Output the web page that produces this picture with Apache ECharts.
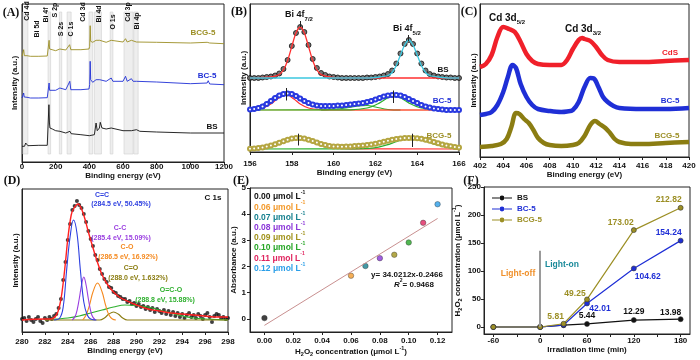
<!DOCTYPE html>
<html><head><meta charset="utf-8">
<script src="https://cdn.jsdelivr.net/npm/echarts@6/dist/echarts.min.js"></script>
<style>html,body{margin:0;padding:0;background:#fff}#c{width:700px;height:360px}</style>
</head><body><div id="c"></div>
<script>
// ---------- DATA ----------
// (A) XPS survey spectra [binding energy eV, intensity a.u.]
const aBCG5 = [[0,105.7],[5,106.3],[10,112.3],[14,106.3],[25,107.3],[30,106.3],[50,105.7],[100,105.7],[150,106],[158,107.3],[161,121.7],[164,113],[170,112.3],[200,111.3],[225,113],[230,111.7],[260,112],[283,117.3],[290,112.3],[350,112.3],[398,113],[402,115.7],[405,136.3],[408,120.7],[420,119.7],[440,121.7],[447,120],[462,121.7],[470,120],[500,119.7],[530,121.7],[540,119.7],[600,120],[615,123.3],[625,120],[650,121.7],[660,120],[680,120],[800,119.7],[1000,119],[1100,119.7],[1106,121.7],[1115,119],[1200,118.3]];
const aBC5 = [[0,64],[8,65.7],[10,69],[13,65],[30,64.7],[50,64],[100,64],[150,64.3],[158,65.7],[161,79],[164,71.7],[170,72.3],[200,71.7],[225,74],[232,72.3],[260,72.3],[284,80.7],[290,72.3],[350,72.3],[398,73],[402,77.3],[405,100.7],[408,82.3],[420,79.7],[440,82.3],[447,80.7],[462,82.3],[470,80.3],[500,80.7],[530,84],[540,80.7],[600,80.7],[615,85.7],[625,80.7],[650,83.3],[660,80.7],[680,80.7],[800,80],[1000,78.3],[1100,79],[1106,81.3],[1115,78],[1200,77.3]];
const aBS = [[0,15.7],[15,15.7],[22,19],[25,20.7],[28,18.3],[35,16.3],[100,16.7],[150,16.7],[157,17.3],[160,57.3],[163,39],[166,34],[172,32.3],[180,33],[200,31.3],[225,30.7],[232,29.7],[260,29],[285,30.7],[292,28.3],[350,27.3],[400,26.3],[430,27.3],[440,39],[447,31.3],[460,34],[465,39.7],[475,34],[500,33],[530,34],[540,32.3],[600,31.3],[650,31.3],[680,32.3],[700,30.7],[800,30],[1000,29],[1200,29]];
const aBands = [[5,35],[155,170],[222,236],[268,292],[398,420],[430,472],[524,540],[606,660],[664,690]];
const aPeakNames = ['Cd 4d','Bi 5d','Bi 4f','S 2p','S 2s','C 1s','Cd 3d','Bi 4d','O 1s','Cd 3p','Bi 4p'];

// (B) Bi 4f high-resolution
const bEnergy = [156,156.2,156.4,156.6,156.8,157,157.2,157.4,157.6,157.8,158,158.2,158.4,158.6,158.8,159,159.2,159.4,159.6,159.8,160,160.2,160.4,160.6,160.8,161,161.2,161.4,161.6,161.8,162,162.2,162.4,162.6,162.8,163,163.2,163.4,163.6,163.8,164,164.2,164.4,164.6,164.8,165,165.2,165.4,165.6,165.8,166];
const bBS = [74,74,74,74.5,75,75.5,76.5,78.5,83,92,106,119,125,120,107,93,84,79,77,75.5,75,74.5,74,74,74,74,74,74,74.5,74.5,75,75.5,76.5,78,81.5,88.5,98.5,108,112,108,98.5,88.5,81.5,78,76.5,75.5,75,74.5,74.5,74,74];
const bBC5 = [42.5,43,44,45.5,48,51,54,56.5,58,58.5,58,56,53.5,51,49,47.5,46.5,46,46,46,46,46.5,46.5,47,47.5,48,48.5,49,50,51,52.5,54,55.5,56.5,57,57,56.5,55,53,51,49,47,45.5,44.5,43.5,43,42.5,42,42,42,42];
const bBCG5 = [3.3,3.5,3.9,4.5,5.4,6.5,7.7,9.2,10.8,12.3,13.4,13.9,13.9,13.4,12.3,10.9,9.4,8.0,6.9,6.1,5.6,5.4,5.3,5.4,5.6,5.9,6.2,6.6,7.0,7.6,8.3,9.2,10.2,11.2,12.2,13.0,13.6,13.9,14.1,14.1,13.8,13.2,12.3,11.2,10.0,8.8,7.6,6.6,5.8,5.1,4.6];
const bBSFit1 = [[156,74],[157,75],[157.4,77.5],[157.6,82],[157.8,91.5],[158,105.5],[158.2,119],[158.4,125],[158.6,119],[158.8,105.5],[159,91.5],[159.2,82],[159.4,77.5],[159.8,75],[160.4,74],[166,74]];
const bBSFit2 = [[156,74],[161.6,74],[162.2,75],[162.6,76.5],[162.8,79.5],[163,86.5],[163.2,97],[163.4,107],[163.6,112],[163.8,107],[164,97],[164.2,86.5],[164.4,79.5],[164.6,76.5],[165,75],[165.6,74],[166,74]];
const bBC5Fit1 = [[156,42.3],[156.6,44],[157,48],[157.3,53],[157.7,58],[158.1,53],[158.4,48],[158.8,44],[159.4,42.3],[160,42],[166,42]];
const bBC5Fit2 = [[156,42],[160.8,42.2],[161.6,44],[162.1,48],[162.5,53],[162.9,56.5],[163.3,53],[163.7,48],[164.2,44],[165,42.2],[166,42]];
const bBC5Fit3 = [[159.4,42],[160.4,43.5],[161.2,46],[161.6,46.5],[162,45],[162.6,42.5],[163.2,42]];
const bBC5Base = [[156,42],[166,42]];
const bBCG5Fit1 = [[156,3.3],[156.3,3.7],[156.7,4.9],[157.1,7.1],[157.5,10],[157.9,12.8],[158.3,14],[158.7,12.8],[159.1,10],[159.5,7.1],[159.9,4.9],[160.3,3.7],[160.8,3.2],[166,3]];
const bBCG5Fit2 = [[156,3],[161,3.2],[161.75,3.7],[162.15,4.9],[162.55,7.1],[162.95,10],[163.35,12.8],[163.75,14],[164.15,12.8],[164.55,10],[164.95,7.1],[165.35,4.9],[165.75,3.7],[166,3.4]];
const bPeakMarks = [[158.4,125,131],[163.55,111,117],[157.75,51.5,64],[162.85,49,61.5],[158.3,6.5,18.3],[163.75,5,18.3]];

// (C) Cd 3d
const cCdS = [[402,90],[402.5,93],[403,102],[403.5,120],[404,130],[404.5,128],[405,125],[405.5,115],[406,103],[406.5,96],[407,93],[408,92],[409,92],[409.5,97],[410,108],[410.5,117],[410.8,119],[411,118],[411.5,116],[412,110],[412.5,102],[413,97],[414,95],[415,95],[416,95],[418,96],[420,97]];
const cBC5 = [[402,42],[402.5,43],[403,45],[403.5,52],[404,65],[404.4,80],[404.8,92],[405.1,89],[405.5,73],[406,60],[406.5,52],[407,48],[408,46],[409,45],[409.5,45.5],[410,47],[410.5,55],[411,70],[411.5,79],[411.8,78.5],[412.2,70],[412.6,60],[413,55],[413.5,51],[414,49],[416,48],[418,48],[420,49]];
const cBCG5 = [[402,10],[403,11],[403.8,13],[404.3,18],[404.7,30],[405.1,44],[405.4,43],[405.8,38],[406.2,34],[406.6,27],[407,19],[407.5,14],[408,12],[409,11],[410,12],[410.5,14],[411,21],[411.5,32],[411.9,36],[412.3,33],[412.8,29],[413.2,24],[413.6,18],[414,15],[415,13],[416,13],[418,14],[420,15]];

// (D) C 1s
const dData = [[280,13],[280.2,14],[280.4,11],[280.6,15],[280.8,12],[281,10],[281.2,13],[281.4,15],[281.6,11],[281.8,9],[282,14],[282.2,12],[282.4,15],[282.6,13],[282.8,16],[283,18],[283.2,24],[283.4,33],[283.6,52],[283.8,70],[284,92],[284.2,108],[284.4,122],[284.6,126],[284.8,131],[285,127],[285.2,124],[285.4,118],[285.6,110],[285.8,101],[286,93],[286.2,86],[286.4,77],[286.6,72],[286.8,63],[287,58],[287.2,53],[287.4,50],[287.6,45],[287.8,44],[288,40],[288.2,39],[288.4,36],[288.6,35],[288.8,33],[289,33],[289.2,30],[289.4,31],[289.6,28],[289.8,29],[290,26],[290.2,28],[290.4,25],[290.6,26],[290.8,23],[291,25],[291.2,22],[291.4,24],[291.6,20],[291.8,23],[292,21],[292.2,19],[292.4,22],[292.6,18],[292.8,21],[293,17],[293.2,20],[293.4,16],[293.6,19],[293.8,15],[294,18],[294.2,14],[294.4,17],[294.6,19],[294.8,15],[295,17],[295.2,14],[295.4,18],[295.6,16],[295.8,13],[296,17],[296.2,19],[296.4,15],[296.6,10],[296.8,16],[297,18],[297.2,17],[297.4,14],[297.6,15],[297.8,13],[298,14]];
const dEnvelope = [[280,12],[282,13],[282.5,13],[283,17],[283.3,27],[283.5,40],[283.8,70],[284,93],[284.3,117],[284.5,123],[284.9,128],[285.2,123],[285.5,113],[285.8,100],[286,92],[286.5,73],[287,57],[287.5,47],[288,40],[288.5,35],[289,32],[290,27],[291,23],[292,21],[293,19],[294,18],[295,17],[296,16],[297,15],[298,15]];
const dCeqC = [[282.8,12],[283.3,14],[283.6,25],[283.9,62],[284.2,95],[284.5,112],[284.8,99],[285.1,62],[285.4,30],[285.7,17],[286,13],[286.5,12]];
const dCC = [[284.4,12],[284.7,17],[285,33],[285.2,47],[285.4,55],[285.6,47],[285.8,33],[286.1,17],[286.4,12]];
const dCO = [[285.3,12],[285.6,17],[285.9,27],[286.2,40],[286.6,49],[287,40],[287.3,27],[287.6,17],[287.9,13],[288.2,12]];
const dCeqO = [[282,12],[286.8,12],[287.2,14],[287.6,18],[288,20],[288.4,18],[288.8,14],[289.2,12],[298,12]];
const dOCO = [[282,12],[283,13],[284,14],[285,16],[286,19],[287,22],[288,25],[289,27],[290,26.5],[291,25],[292,22],[293,19],[294,16],[295,14],[296,13],[297,12.5],[298,12]];

// (E) calibration
const eConc = [0.00,0.06,0.07,0.08,0.09,0.10,0.11,0.12];
const eAbs = [0.03,1.65,2.02,2.32,2.45,2.92,3.67,4.38];
const eFitX = [0, 0.12];
const eFitY = [-0.2466, 3.836];
const eXTicks = [0,0.02,0.04,0.06,0.08,0.10,0.12];
const eYTicks = [0,1,2,3,4,5];

// (F) H2O2 production
const fTime = [-60,0,30,60,120,180];
const fBS = [0,0,3.2,5.44,12.29,13.98];
const fBC5 = [0,0,3.5,42.01,104.62,154.24];
const fBCG5 = [0,0,5.81,49.25,173.02,212.82];
const fXTicks = [-60,0,60,120,180];
const fXTickMarks = [-60,-30,0,30,60,90,120,150,180];
const fYTicks = [0,50,100,150,200,250];

// ---------- STYLE ----------
const FONT = 'Liberation Sans, Arial, Helvetica, sans-serif';
const SERIF = 'Liberation Serif, Times New Roman, serif';
const OLIVE = '#9c8f25', BLUE = '#1f2fd6', RED = '#f0202a';
const eColors = ['#111111','#f39a2c','#16808f','#8a35d8','#a0921a','#26a626','#e0245e','#2a9ee8'];

const chart = echarts.init(document.getElementById('c'), null, {renderer:'canvas'});

const grids = [
  {left:22, top:4, width:202, height:158},
  {left:250, top:4, width:209, height:148},
  {left:480, top:4, width:209, height:153},
  {left:22, top:189, width:206, height:143},
  {left:250, top:188, width:202, height:144},
  {left:484, top:187, width:206, height:147}
].map(g => Object.assign({show:true, borderColor:'#222', borderWidth:1, backgroundColor:'transparent'}, g));

const nameStyle = {color:'#111', fontWeight:'bold', fontSize:8, fontFamily:FONT,
  rich:{m:{fontWeight:'bold', fontSize:8, fontFamily:FONT, color:'#111', lineHeight:12},
        s:{fontWeight:'bold', fontSize:5.5, fontFamily:FONT, color:'#111', lineHeight:6, verticalAlign:'bottom'},
        p:{fontWeight:'bold', fontSize:5.5, fontFamily:FONT, color:'#111', lineHeight:6, verticalAlign:'top'}}};
const lbl = (o) => Object.assign({color:'#111', fontWeight:'bold', fontSize:8, fontFamily:FONT, formatter:v => String(v)}, o);
function ax(gi, o) {
  return Object.assign({
    type:'value', gridIndex:gi, nameLocation:'middle', nameTextStyle:nameStyle,
    axisLine:{show:true, onZero:false, lineStyle:{color:'#222', width:1}},
    axisTick:{show:true, inside:false, length:3, lineStyle:{color:'#222'}},
    axisLabel:lbl({}),
    splitLine:{show:false}
  }, o);
}
function yHidden(gi, max, gap) {
  return ax(gi, {min:0, max:max, name:'Intensity (a.u.)', nameGap:gap, nameRotate:90,
    axisTick:{show:false}, axisLabel:{show:false}});
}

const xAxis = [
  ax(0, {min:0, max:1200, interval:200, name:'Binding energy (eV)', nameGap:6, axisLabel:lbl({margin:1})}),
  ax(1, {min:156, max:166, interval:2, name:'Binding energy (eV)', nameGap:16, axisLabel:lbl({margin:8})}),
  ax(2, {min:402, max:420, interval:2, name:'Binding energy (eV)', nameGap:11, axisLabel:lbl({margin:5})}),
  ax(3, {min:280, max:298, interval:2, name:'Binding energy (eV)', nameGap:12.5, axisLabel:lbl({margin:5.5})}),
  ax(4, {min:-0.01, max:0.13, name:'{m|H}{s|2}{m|O}{s|2}{m| concentration (μmol L}{p|-1}{m|)}', nameGap:10,
     axisTick:{show:true, length:3, lineStyle:{color:'#222'}, customValues:eXTicks},
     axisLabel:lbl({margin:5, customValues:eXTicks, formatter:v => Number(v).toFixed(2)})}),
  ax(5, {min:-72, max:192, name:'Irradiation time (min)', nameGap:9,
     axisTick:{show:true, length:3, lineStyle:{color:'#222'}, customValues:fXTickMarks},
     axisLabel:lbl({margin:2.5, customValues:fXTicks})})
];
const yAxis = [
  yHidden(0, 158, 3),
  yHidden(1, 148, 2),
  yHidden(2, 153, 2),
  yHidden(3, 143, 2),
  ax(4, {min:-0.5, max:5, name:'Absorbance (a.u.)', nameGap:10, nameRotate:90,
     axisTick:{show:true, length:3, lineStyle:{color:'#222'}, customValues:eYTicks},
     axisLabel:lbl({margin:4, customValues:eYTicks})}),
  ax(5, {min:-12.5, max:250, name:'{m|H}{s|2}{m|O}{s|2}{m| concentration (μmol L}{p|-1}{m|)}', nameGap:12, nameRotate:90,
     axisTick:{show:true, length:3, lineStyle:{color:'#222'}, customValues:fYTicks},
     axisLabel:lbl({margin:3, customValues:fYTicks})})
];

function line(idx, name, data, color, width, extra) {
  return Object.assign({type:'line', name, xAxisIndex:idx, yAxisIndex:idx, data,
    symbol:'none', lineStyle:{color, width}, itemStyle:{color}, silent:true}, extra || {});
}
const zip = (xs, ys) => xs.map((x, i) => [x, ys[i]]);

const series = [];
// (A)
series.push(line(0, 'A-BS', aBS, '#111', 0.9, {
  markArea:{silent:true, itemStyle:{color:'rgba(205,205,205,0.35)', borderColor:'#d0d0d0', borderWidth:0.6},
    data:aBands.map(b => [{xAxis:b[0], yAxis:8}, {xAxis:b[1], yAxis:150}])}
}));
series.push(line(0, 'A-BC5', aBC5, BLUE, 0.9));
series.push(line(0, 'A-BCG5', aBCG5, OLIVE, 0.9));
// (B)
series.push({type:'scatter', name:'B-BS', xAxisIndex:1, yAxisIndex:1, data:zip(bEnergy, bBS), symbolSize:5,
  itemStyle:{color:'#555', borderColor:'#111', borderWidth:1}, silent:true});
series.push(line(1, 'B-BSf1', bBSFit1, '#ff3030', 1.3, {smooth:0.3}));
series.push(line(1, 'B-BSf2', bBSFit2, '#3cc8e0', 1.3, {smooth:0.3}));
series.push(line(1, 'B-BC5', zip(bEnergy, bBC5), '#2a3ae0', 4.5, {smooth:0.3, symbol:'emptyCircle', symbolSize:4, showAllSymbol:true, itemStyle:{color:'#2a3ae0', borderColor:'#2a3ae0'}}));
series.push(line(1, 'B-BC5base', bBC5Base, '#f5a040', 1.2));
series.push(line(1, 'B-BC5f3', bBC5Fit3, '#2fb02f', 1.1, {smooth:0.4}));
series.push(line(1, 'B-BC5f1', bBC5Fit1, '#ff3030', 1.2, {smooth:0.3}));
series.push(line(1, 'B-BC5f2', bBC5Fit2, '#2fb02f', 1.2, {smooth:0.3}));
series.push(line(1, 'B-BCG5', zip(bEnergy, bBCG5), '#c2b456', 4.5, {smooth:0.3, symbol:'emptyCircle', symbolSize:4, showAllSymbol:true, itemStyle:{color:'#b5a642', borderColor:'#b5a642'}}));
series.push(line(1, 'B-BCG5f1', bBCG5Fit1, '#ff3030', 1.2, {smooth:0.3}));
series.push(line(1, 'B-BCG5f2', bBCG5Fit2, '#2fb02f', 1.2, {smooth:0.3, markLine:{silent:true, symbol:'none', label:{show:false},
  lineStyle:{color:'#222', width:1, type:'solid'},
  data:bPeakMarks.map(m => [{coord:[m[0], m[1]]}, {coord:[m[0], m[2]]}])}}));
// (C)
series.push(line(2, 'C-CdS', cCdS, RED, 4.5, {smooth:0.35}));
series.push(line(2, 'C-BC5', cBC5, BLUE, 4.5, {smooth:0.35}));
series.push(line(2, 'C-BCG5', cBCG5, '#8b7d12', 4.5, {smooth:0.35}));
// (D)
series.push({type:'scatter', name:'D-data', xAxisIndex:3, yAxisIndex:3, data:dData, symbolSize:4,
  itemStyle:{color:'#111'}, silent:true});
series.push(line(3, 'D-OCO', dOCO, '#2fb02f', 1.1, {smooth:0.4}));
series.push(line(3, 'D-CeqO', dCeqO, '#8b7d12', 1.1, {smooth:0.4}));
series.push(line(3, 'D-CO', dCO, '#f58a20', 1.1, {smooth:0.4}));
series.push(line(3, 'D-CC', dCC, '#9a3fe0', 1.1, {smooth:0.4}));
series.push(line(3, 'D-CeqC', dCeqC, '#2d3fe0', 1.1, {smooth:0.4}));
series.push(line(3, 'D-env', dEnvelope, '#ff2020', 1.4, {smooth:0.4}));
// (E)
series.push(line(4, 'E-fit', zip(eFitX, eFitY), '#c99090', 1));
series.push({type:'scatter', name:'E-pts', xAxisIndex:4, yAxisIndex:4, symbolSize:5.5, silent:true,
  data:eConc.map((c, i) => ({value:[c, eAbs[i]], itemStyle:{color:eColors[i], borderColor:'#333', borderWidth:0.5}}))});
// (F)
const fLabelShow = {BS:[3,4,5], 'BC-5':[3,4,5], 'BCG-5':[2,3,4,5]};
const fLabelOffset = {
  BS:{3:[0,-8], 4:[0,-8], 5:[-10,-7]},
  'BC-5':{3:[13,5], 4:[14,8], 5:[-12,-8]},
  'BCG-5':{2:[-8,-7], 3:[-12,-6], 4:[-13,-7], 5:[-12,-8]}
};
function fSeries(name, vals, color, extra) {
  return Object.assign({type:'line', name, xAxisIndex:5, yAxisIndex:5, symbol:'circle', symbolSize:5,
    lineStyle:{color, width:1.2}, itemStyle:{color, borderColor:'#333', borderWidth:0.6}, silent:true,
    data:fTime.map((t, i) => {
      const item = {value:[t, vals[i]]};
      if (fLabelShow[name].includes(i)) {
        item.label = {show:true, position:'inside', offset:fLabelOffset[name][i], formatter:String(vals[i]),
          color, fontWeight:'bold', fontSize:8.5, fontFamily:FONT};
      }
      return item;
    })}, extra || {});
}
series.push(fSeries('BS', fBS, '#111', {markLine:{silent:true, symbol:'none', label:{show:false},
  lineStyle:{color:'#9a9a9a', width:2, type:'solid'}, data:[[{coord:[0,0]}, {coord:[0,136]}]]}}));
series.push(fSeries('BC-5', fBC5, BLUE));
series.push(fSeries('BCG-5', fBCG5, OLIVE));

// ---------- TEXT ----------
function T(x, y, text, color, size, extra) {
  const st = {text, fill:color, font:`bold ${size}px ${FONT}`, align:'center', verticalAlign:'middle'};
  const el = {type:'text', x, y, z:100, silent:true, style:st};
  if (extra) { if (extra.style) Object.assign(st, extra.style); if (extra.rotation) el.rotation = extra.rotation; }
  return el;
}
function subRich(size, color) {
  return {m:{font:`bold ${size}px ${FONT}`, fill:color, lineHeight:size + 5},
          s:{font:`bold ${Math.round(size * 0.62)}px ${FONT}`, fill:color, lineHeight:5, verticalAlign:'bottom'},
          p:{font:`bold ${Math.round(size * 0.62)}px ${FONT}`, fill:color, lineHeight:7, verticalAlign:'top'},
          i:{font:`italic bold ${size}px ${FONT}`, fill:color, lineHeight:size + 5}};
}
const panel = (x, y, t) => T(x, y, t, '#111', 12, {style:{font:`bold 12px ${SERIF}`}});
const aLabelPos = [[27,11],[37,29],[46,15],[55,10],[61,29],[71,29],[83,12],[99,14],[113,22],[128,12],[137,21]];
const graphics = [
  panel(11, 13, '(A)'), panel(239, 12, '(B)'), panel(469, 12, '(C)'),
  panel(12, 181, '(D)'), panel(241, 181, '(E)'), panel(471, 181, '(F)'),
  ...aPeakNames.map((n, i) => T(aLabelPos[i][0], aLabelPos[i][1], n, '#111', 7, {rotation:Math.PI / 2})),
  T(203, 33, 'BCG-5', OLIVE, 8), T(207, 76, 'BC-5', BLUE, 8), T(212, 127, 'BS', '#111', 8),
  T(299, 15, '{m|Bi 4f}{s|7/2}', '#111', 9, {style:{rich:subRich(9, '#111')}}),
  T(407, 29, '{m|Bi 4f}{s|5/2}', '#111', 9, {style:{rich:subRich(9, '#111')}}),
  T(443, 70, 'BS', '#111', 8), T(442, 101, 'BC-5', BLUE, 8), T(439, 136, 'BCG-5', OLIVE, 8),
  T(507, 18, '{m|Cd 3d}{s|5/2}', '#111', 10, {style:{rich:subRich(10, '#111')}}),
  T(583, 29, '{m|Cd 3d}{s|3/2}', '#111', 10, {style:{rich:subRich(10, '#111')}}),
  T(670, 53, 'CdS', RED, 8), T(670, 101, 'BC-5', BLUE, 8), T(667, 136, 'BCG-5', OLIVE, 8),
  T(213, 198, 'C 1s', '#111', 8),
  T(102, 195, 'C=C', '#2d3fe0', 7), T(121, 204, '(284.5 eV, 50.45%)', '#2d3fe0', 7),
  T(120, 228, 'C-C', '#9a3fe0', 7), T(121, 238, '(285.4 eV, 15.09%)', '#9a3fe0', 7),
  T(127, 247, 'C-O', '#f58a20', 7), T(128, 257, '(286.5 eV, 16.92%)', '#f58a20', 7),
  T(131, 268, 'C=O', '#8b7d12', 7), T(138, 278, '(288.0 eV, 1.632%)', '#8b7d12', 7),
  T(171, 290, 'O=C-O', '#2fb02f', 7), T(165, 300, '(288.8 eV, 15.88%)', '#2fb02f', 7),
  ...eConc.map((c, i) => T(254, 197 + i * 10.2, `{m|${c.toFixed(2)} μmol L}{p|-1}`, eColors[i], 8.5,
      {style:{align:'left', rich:subRich(8.5, eColors[i])}})),
  T(407, 275, 'y= 34.0212x-0.2466', '#111', 8),
  T(414, 285, '{i|R}{p|2}{m|= 0.9468}', '#111', 8, {style:{rich:subRich(8, '#111')}}),
  T(518, 274, 'Light-off', '#f0902a', 8.5), T(562, 265, 'Light-on', '#1a8a9a', 8.5)
];

// legend icon: short line with a small dot in the middle
const LEGEND_ICON = 'path://M0,3.4h7.5v1.2h-7.5zM12.5,3.4h7.5v1.2h-7.5zM10,1.6a2.4,2.4 0 1,0 0.01,0z';

chart.setOption({
  animation:false,
  backgroundColor:'#fff',
  textStyle:{fontFamily:FONT},
  grid:grids, xAxis, yAxis, series,
  legend:{show:true, orient:'vertical', left:487, top:189, itemGap:3, itemWidth:20, itemHeight:8,
    selectedMode:false, icon:LEGEND_ICON, itemStyle:{borderWidth:0},
    textStyle:{fontWeight:'bold', fontSize:8, fontFamily:FONT, lineHeight:8},
    data:[{name:'BS', textStyle:{color:'#111'}}, {name:'BC-5', textStyle:{color:BLUE}}, {name:'BCG-5', textStyle:{color:OLIVE}}]},
  graphic:{elements:graphics}
});
</script></body></html>
